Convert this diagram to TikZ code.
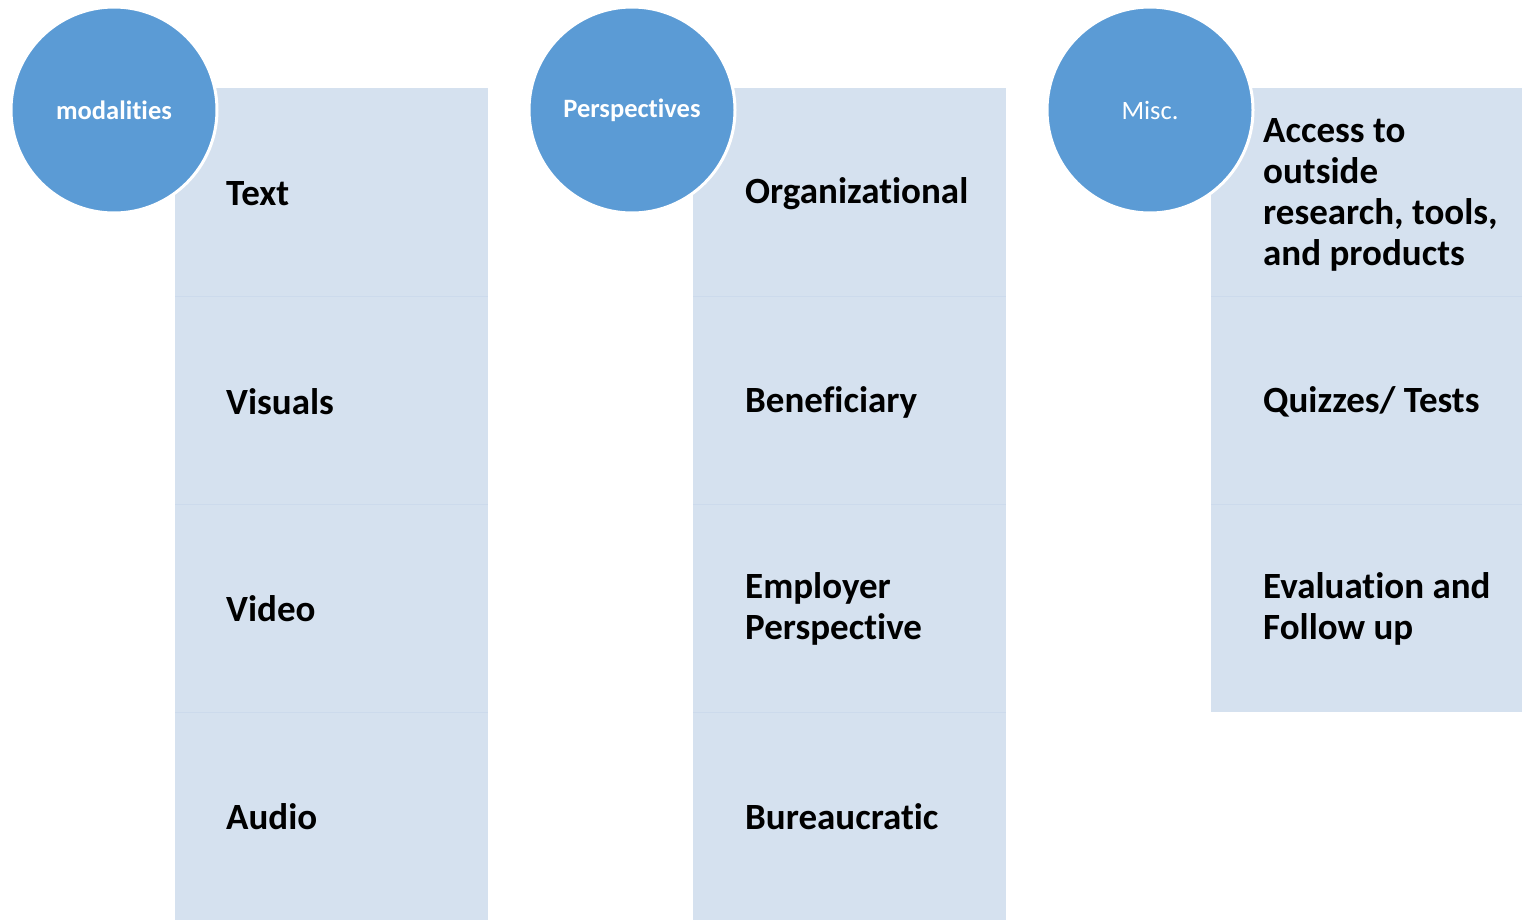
\documentclass[tikz,border=0pt]{standalone}
\usepackage{fontspec}
\setmainfont[Ligatures=NoCommon]{Carlito}
\definecolor{boxfill}{HTML}{D5E1EF}
\definecolor{boxline}{HTML}{CCDAEC}
\definecolor{circfill}{HTML}{5B9BD5}
\begin{document}
\begin{tikzpicture}[x=1pt,y=-1pt,
  cell/.style={fill=boxfill},
  sep/.style={draw=boxline,line width=1pt},
  hub/.style={circle,fill=circfill,draw=white,line width=3pt,minimum size=206pt,inner sep=0pt,text=white,font=\fontsize{26.5}{30}\selectfont},
  item/.style={anchor=west,inner sep=0pt,align=left,font=\bfseries\fontsize{37}{41}\selectfont,text=black}]
\useasboundingbox (0,0) rectangle (1522,919);
% column 1
\path[cell] (175,88) rectangle (488,921);
\draw[sep] (175,296) -- (488,296) (175,504) -- (488,504) (175,712) -- (488,712);
% column 2
\path[cell] (693,88) rectangle (1006,921);
\draw[sep] (693,296) -- (1006,296) (693,504) -- (1006,504) (693,712) -- (1006,712);
% column 3
\path[cell] (1211,88) rectangle (1524,712);
\draw[sep] (1211,296) -- (1524,296) (1211,504) -- (1524,504);
% circles
\node[hub,font=\bfseries\fontsize{26.5}{30}\selectfont] (c1) at (114,110) {modalities};
\node[hub,font=\bfseries\fontsize{26.5}{30}\selectfont] (c2) at (632,110) {Perspectives};
\node[hub] (c3) at (1150,110) {Misc.};
% items
\node[item] (t1) at (226,194) {Text};
\node[item] (t2) at (226,402) {Visuals};
\node[item] (t3) at (226,609) {Video};
\node[item] (t4) at (226,817) {Audio};
\node[item] (p1) at (745,194) {Organizational};
\node[item] (p2) at (745,402) {Beneficiary};
\node[item] (p3) at (745,609) {Employer\\Perspective};
\node[item] (p4) at (745,817) {Bureaucratic};
\node[item] (m1) at (1263,195) {Access to\\outside\\research, tools,\\and products};
\node[item] (m2) at (1263,402) {Quizzes/ Tests};
\node[item] (m3) at (1263,609) {Evaluation and\\Follow up};
\end{tikzpicture}
\end{document}
